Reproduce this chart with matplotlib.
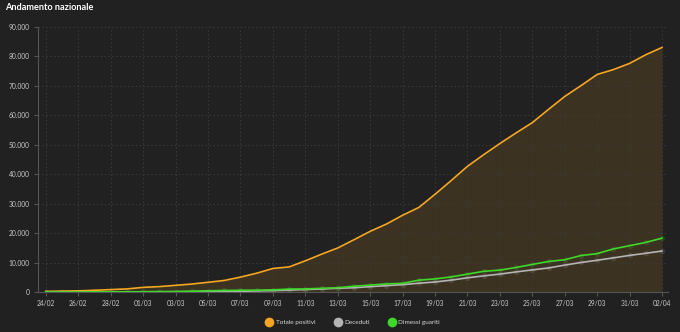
import matplotlib
matplotlib.use("Agg")
import matplotlib.pyplot as plt
from matplotlib.lines import Line2D
import numpy as np

dates = ["24/02", "25/02", "26/02", "27/02", "28/02", "29/02",
         "01/03", "02/03", "03/03", "04/03", "05/03", "06/03", "07/03", "08/03", "09/03", "10/03",
         "11/03", "12/03", "13/03", "14/03", "15/03", "16/03", "17/03", "18/03", "19/03", "20/03",
         "21/03", "22/03", "23/03", "24/03", "25/03", "26/03", "27/03", "28/03", "29/03", "30/03",
         "31/03", "01/04", "02/04"]

totale_positivi = [221, 311, 385, 588, 821, 1049, 1577, 1835, 2263, 2706, 3296, 3916, 5061, 6387,
                   7985, 8514, 10590, 12839, 14955, 17750, 20603, 23073, 26062, 28710, 33190, 37860,
                   42681, 46638, 50418, 54030, 57521, 62013, 66414, 70065, 73880, 75528, 77635,
                   80572, 83049]
deceduti = [7, 10, 12, 17, 21, 29, 34, 52, 79, 107, 148, 197, 233, 366, 463, 631, 827, 1016, 1266,
            1441, 1809, 2158, 2503, 2978, 3405, 4032, 4825, 5476, 6077, 6820, 7503, 8165, 9134,
            10023, 10779, 11591, 12428, 13155, 13915]
dimessi_guariti = [1, 1, 3, 45, 46, 50, 83, 149, 160, 276, 414, 523, 589, 622, 724, 1004, 1045,
                   1258, 1439, 1966, 2335, 2749, 2941, 4025, 4440, 5129, 6072, 7024, 7432, 8326,
                   9362, 10361, 10950, 12384, 13030, 14620, 15729, 16847, 18278]

series_names = ["Totale positivi", "Deceduti", "Dimessi guariti"]
yticks = [0, 10000, 20000, 30000, 40000, 50000, 60000, 70000, 80000, 90000]
ytick_labels = ["0", "10.000", "20.000", "30.000", "40.000", "50.000", "60.000", "70.000", "80.000", "90.000"]

plt.rcParams['font.family'] = ['Lato', 'DejaVu Sans']

BG = "#212121"
ORANGE = "#f5a623"
GREY = "#b4b4b4"
GREEN = "#3fd82a"

fig = plt.figure(figsize=(6.8, 3.32), dpi=100, facecolor=BG)
ax = fig.add_axes([38/680, 40/332, (668-38)/680, (292-27)/332])
ax.set_facecolor(BG)

x = np.arange(len(dates))
ax.fill_between(x, 0, totale_positivi, color=ORANGE, alpha=0.13, linewidth=0, zorder=1)
for vals, col, mk in [(totale_positivi, ORANGE, False), (deceduti, GREY, True), (dimessi_guariti, GREEN, True)]:
    ax.plot(x, vals, color=col, lw=1.2, zorder=3)
    if mk:
        ax.plot(x, vals, ls='none', marker='o', ms=4, color=col, alpha=0.15, mew=0, zorder=2)

ax.set_xlim(-0.49, len(dates) - 1 + 0.37)
ax.set_ylim(0, 90000)
ax.set_yticks(yticks)
ax.set_yticklabels(ytick_labels)
ax.set_xticks(x[::2])
ax.set_xticklabels(dates[::2])

ax.grid(True, color="#3a3a3a", linestyle=(0, (1.5, 2.5)), linewidth=0.7, zorder=0)
for s in ["top", "right"]:
    ax.spines[s].set_visible(False)
for s in ["left", "bottom"]:
    ax.spines[s].set_color("#555555")
    ax.spines[s].set_linewidth(0.8)
ax.tick_params(colors="#555555", labelcolor="#c8c8c8", labelsize=4.8, length=3, width=0.8, pad=3)

fig.text(5/680, 1 - 8/332, "Andamento nazionale", color="white", fontsize=6.6,
         fontweight="bold", va="center", ha="left")

handles = [Line2D([], [], ls='none', marker='o', ms=7, color=c, mew=0)
           for c in [ORANGE, GREY, GREEN]]
leg = fig.legend(handles, series_names, loc="center", bbox_to_anchor=(353/680, 1 - 322/332), ncol=3,
                 frameon=False, fontsize=4.6, handletextpad=0.5, columnspacing=3.0,
                 handlelength=1.0)
for t in leg.get_texts():
    t.set_color("#d8d8d8")

fig.savefig("out.png", dpi=100, facecolor=BG)
